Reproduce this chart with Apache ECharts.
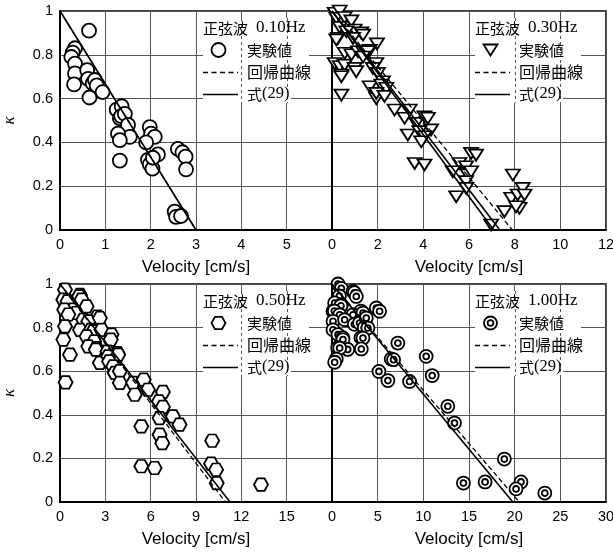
<!DOCTYPE html>
<html>
<head>
<meta charset="utf-8">
<script src="https://cdn.jsdelivr.net/npm/echarts@6/dist/echarts.min.js"></script>
<style>
  html, body { margin: 0; padding: 0; background: #fff; }
  #chart { width: 613px; height: 553px; }
</style>
</head>
<body>
<div id="chart"></div>
<script>
// ---- data: velocity [cm/s] vs. kappa for four sine-wave frequencies ----
const freqLabels = ['0.10Hz', '0.30Hz', '0.50Hz', '1.00Hz'];
const xMax  = [6, 12, 18, 30];
const xStep = [1, 2, 3, 5];

const vel010 = [0.64, 0.33, 0.28, 0.25, 0.33, 0.33, 0.31, 0.60, 0.62, 0.72, 0.77, 0.81, 0.65, 0.94,
                1.25, 1.36, 1.32, 1.35, 1.43, 1.50, 1.54, 1.28, 1.32, 1.32,
                1.98, 2.01, 2.09, 1.90, 2.16, 1.94, 1.98, 2.04, 2.05,
                2.60, 2.70, 2.77, 2.78, 2.53, 2.56, 2.67];
const kap010 = [0.91, 0.83, 0.81, 0.79, 0.76, 0.715, 0.665, 0.73, 0.69, 0.67, 0.685, 0.66, 0.605, 0.63,
                0.55, 0.565, 0.51, 0.52, 0.53, 0.48, 0.425, 0.44, 0.41, 0.317,
                0.47, 0.44, 0.425, 0.40, 0.345, 0.32, 0.30, 0.28, 0.33,
                0.37, 0.355, 0.335, 0.277, 0.084, 0.06, 0.064];

const vel030 = [0.12, 0.34, 0.19, 0.55, 0.85, 0.34, 0.99, 1.28, 1.36, 0.63, 0.26, 0.92, 0.19, 1.97,
                1.65, 0.56, 0.85, 1.14, 1.36, 1.57, 1.36, 0.12, 0.34, 0.55, 0.99, 0.41, 0.41, 1.06,
                1.94, 1.79, 2.01, 2.23, 1.65, 2.16, 2.38, 1.94, 1.94, 2.30, 0.41,
                2.74, 3.40, 3.18, 4.05, 4.20, 3.69, 4.34, 3.32, 3.83, 4.05, 3.91, 3.62, 4.05,
                6.09, 6.31, 5.58, 5.87, 5.29, 5.95, 6.09, 5.87, 5.88, 5.44, 6.97,
                7.92, 7.85, 8.13, 8.35, 8.43, 8.21, 8.06, 7.55];
const kap030 = [0.99, 1.00, 0.967, 0.97, 0.955, 0.925, 0.913, 0.90, 0.89, 0.905, 0.875, 0.875, 0.868, 0.85,
                0.82, 0.807, 0.80, 0.814, 0.814, 0.814, 0.79, 0.76, 0.746, 0.753, 0.738, 0.708, 0.70, 0.723,
                0.76, 0.738, 0.715, 0.677, 0.654, 0.662, 0.647, 0.60, 0.624, 0.61, 0.616,
                0.548, 0.548, 0.51, 0.517, 0.51, 0.487, 0.457, 0.434, 0.449, 0.426, 0.403, 0.304, 0.297,
                0.35, 0.342, 0.304, 0.289, 0.266, 0.251, 0.266, 0.221, 0.19, 0.152, 0.023,
                0.251, 0.145, 0.16, 0.19, 0.16, 0.099, 0.106, 0.084];

const vel050 = [0.33, 0.22, 0.50, 1.32, 1.27, 1.43, 1.76, 0.88, 0.28, 1.05, 0.55, 2.48, 1.54, 1.87, 2.64,
                0.33, 1.32, 2.04, 2.20, 2.75, 3.41, 0.22, 1.76, 2.26, 3.36, 1.87, 2.42, 0.66, 2.37,
                3.14, 3.80, 2.64, 3.19, 3.85, 3.25, 3.52, 3.63, 3.96, 3.96, 0.37,
                4.84, 4.95, 5.54, 5.82, 6.81, 6.55, 6.81, 6.59, 7.47, 7.91, 5.38, 6.59, 6.77,
                10.07, 5.38, 6.26, 10.00, 10.33, 10.37, 13.30];
const kap050 = [0.974, 0.928, 0.92, 0.95, 0.943, 0.928, 0.897, 0.882, 0.882, 0.867, 0.86, 0.851, 0.836, 0.829, 0.844,
                0.806, 0.79, 0.79, 0.783, 0.79, 0.768, 0.745, 0.76, 0.737, 0.745, 0.714, 0.706, 0.676, 0.699,
                0.69, 0.683, 0.638, 0.668, 0.676, 0.645, 0.622, 0.592, 0.60, 0.546, 0.549,
                0.546, 0.492, 0.561, 0.515, 0.505, 0.462, 0.436, 0.385, 0.393, 0.355, 0.347, 0.309, 0.27,
                0.281, 0.164, 0.156, 0.176, 0.148, 0.087, 0.08];

const vel100 = [0.66, 1.02, 0.81, 2.30, 2.45, 2.66, 0.29, 1.02, 0.98, 0.10, 0.26, 3.17, 0.84, 1.75,
                2.30, 3.39, 4.85, 5.21, 0.11, 1.38, 2.45, 3.02, 3.54, 3.75, 3.93, 0.11, 0.66, 1.17,
                3.17, 1.20, 3.39, 0.62, 1.72, 0.84, 3.21, 7.21, 0.47, 0.29, 6.48, 6.74, 10.31,
                5.14, 6.12, 8.49, 10.97, 12.68, 13.41, 18.87, 14.39, 16.76, 20.69, 20.15, 23.30];
const kap100 = [1.00, 0.98, 0.945, 0.966, 0.96, 0.943, 0.913, 0.905, 0.90, 0.875, 0.876, 0.876, 0.859, 0.836,
                0.859, 0.867, 0.89, 0.875, 0.829, 0.836, 0.815, 0.821, 0.80, 0.844, 0.798, 0.79, 0.768, 0.754,
                0.754, 0.745, 0.752, 0.708, 0.70, 0.706, 0.702, 0.729, 0.656, 0.641, 0.656, 0.653, 0.668,
                0.599, 0.557, 0.553, 0.58, 0.439, 0.362, 0.197, 0.087, 0.092, 0.092, 0.06, 0.041];

// regression curves (dashed) and eq.(29) lines (solid): [velocity, kappa] end points
const reg010 = [[0, 1], [3.0, 0]];
const eq010  = [[0, 1], [3.0, 0]];
const reg030 = [[0, 1], [7.9, 0]];
const eq030  = [[0, 1], [7.35, 0]];
const eq030b = [[0, 1], [7.08, 0]];
const reg050 = [[0, 1], [10.95, 0]];
const eq050  = [[0, 1], [11.25, 0]];
const reg100 = [[0, 1], [20.5, 0]];
const eq100  = [[0, 1], [19.8, 0]];

// ---- layout & style ----
const grids = [
  { left: 60,  top: 11,  width: 272, height: 219 },
  { left: 332, top: 11,  width: 274, height: 219 },
  { left: 60,  top: 284, width: 272, height: 218 },
  { left: 332, top: 284, width: 274, height: 218 }
];
const SANS = 'Liberation Sans';
const SERIF = 'Liberation Serif';
const CJK = 'Noto Sans CJK JP';
const GRID_GREY = '#555';

const SYM_TRI = 'path://M0,0 L20,0 L10,17 Z';
const SYM_HEX = 'path://M0,8.66 L5,0 L15,0 L20,8.66 L15,17.32 L5,17.32 Z';
const SYM_DBL = 'path://M10,0 A10,10 0 1,1 10,20 A10,10 0 1,1 10,0 Z M10,5.5 A4.5,4.5 0 1,1 10,14.5 A4.5,4.5 0 1,1 10,5.5 Z';

const panels = [
  { v: vel010, k: kap010, sym: 'circle', size: 14,       reg: reg010, eqs: [eq010] },
  { v: vel030, k: kap030, sym: SYM_TRI,  size: [14, 11], reg: reg030, eqs: [eq030, eq030b] },
  { v: vel050, k: kap050, sym: SYM_HEX,  size: [14, 12.5], reg: reg050, eqs: [eq050] },
  { v: vel100, k: kap100, sym: SYM_DBL,  size: 13,       reg: reg100, eqs: [eq100] }
];

const xAxes = [], yAxes = [], series = [];
panels.forEach((p, i) => {
  const left = (i % 2 === 0);
  xAxes.push({
    type: 'value', gridIndex: i, min: 0, max: xMax[i], interval: xStep[i],
    name: 'Velocity [cm/s]', nameLocation: 'middle', nameGap: 29,
    nameTextStyle: { fontFamily: SANS, fontSize: 17, color: '#000' },
    axisLine: { show: true, onZero: false, lineStyle: { color: '#000', width: 2 } },
    axisTick: { show: false },
    axisLabel: { fontFamily: SANS, fontSize: 14.5, color: '#000', margin: 7, showMaxLabel: !left },
    splitLine: { show: true, lineStyle: { color: GRID_GREY, width: 1 } }
  });
  yAxes.push({
    type: 'value', gridIndex: i, min: 0, max: 1, interval: 0.2,
    name: left ? 'κ' : '', nameLocation: 'middle', nameGap: 42, nameRotate: 90,
    nameTextStyle: { fontFamily: SERIF, fontStyle: 'italic', fontSize: 17, color: '#000' },
    axisLine: { show: true, onZero: false, lineStyle: { color: '#000', width: 2 } },
    axisTick: { show: false },
    axisLabel: { show: left, fontFamily: SANS, fontSize: 14.5, color: '#000', margin: 7 },
    splitLine: { show: true, lineStyle: { color: GRID_GREY, width: 1 } }
  });
  series.push({
    type: 'scatter', xAxisIndex: i, yAxisIndex: i, z: 2,
    symbol: p.sym, symbolSize: p.size,
    itemStyle: { color: '#fff', borderColor: '#000', borderWidth: 1.8, opacity: 1 },
    data: p.v.map((x, j) => [x, p.k[j]])
  });
  series.push({
    type: 'line', xAxisIndex: i, yAxisIndex: i, z: 3, symbol: 'none',
    lineStyle: { color: '#000', width: 1.3, type: [5, 3] },
    data: p.reg
  });
  p.eqs.forEach(eq => series.push({
    type: 'line', xAxisIndex: i, yAxisIndex: i, z: 3, symbol: 'none',
    lineStyle: { color: '#000', width: 1.6 },
    data: eq
  }));
});

const chart = echarts.init(document.getElementById('chart'), null, { renderer: 'canvas' });
chart.setOption({
  animation: false,
  backgroundColor: '#fff',
  grid: grids.map(g => Object.assign({ show: true, borderColor: '#000', borderWidth: 1.5,
                                       backgroundColor: 'transparent', outerBoundsMode: 'none' }, g)),
  xAxis: xAxes,
  yAxis: yAxes,
  series: series
});

// ---- per-panel legend boxes ----
function legendMarker(i, cx, cy) {
  const st = { fill: '#fff', stroke: '#000', lineWidth: 1.8 };
  if (i === 0) return [{ type: 'circle', shape: { cx, cy, r: 7 }, style: st }];
  if (i === 1) return [{ type: 'polygon', shape: { points: [[cx - 7, cy - 5.5], [cx + 7, cy - 5.5], [cx, cy + 5.5]] }, style: st }];
  if (i === 2) return [{ type: 'polygon', shape: { points: [[cx - 7, cy], [cx - 3.5, cy - 6.2], [cx + 3.5, cy - 6.2],
                                                          [cx + 7, cy], [cx + 3.5, cy + 6.2], [cx - 3.5, cy + 6.2]] }, style: st }];
  return [{ type: 'circle', shape: { cx, cy, r: 6.5 }, style: st },
          { type: 'circle', shape: { cx, cy, r: 2.9 }, style: st }];
}

const graphics = [];
grids.forEach((g, i) => {
  const L = g.left, T = g.top;
  const white = { fill: '#fff' };
  const els = [
    { type: 'rect', shape: { x: L + 143, y: T + 7,  width: 106, height: 44 }, style: white },
    { type: 'rect', shape: { x: L + 143, y: T + 51, width: 111, height: 21 }, style: white },
    { type: 'rect', shape: { x: L + 143, y: T + 72, width: 88,  height: 20 }, style: white }
  ];
  [4 / 6, 5 / 6].forEach(f => {
    const x = Math.round(chart.convertToPixel({ gridIndex: i }, [xMax[i] * f, 0])[0]) + 0.5;
    els.push({ type: 'line', shape: { x1: x, y1: T + 7, x2: x, y2: T + 92 },
               style: { stroke: '#555', lineWidth: 1, lineDash: [3, 3] } });
  });
  els.push({ type: 'text', x: L + 143, y: T + 17,
    style: { text: '{a|正弦波}{b|' + freqLabels[i] + '}', verticalAlign: 'middle', align: 'left',
             rich: { a: { fontFamily: CJK, fontSize: 15, fill: '#000' },
                     b: { fontFamily: SERIF, fontSize: 17, fill: '#000', padding: [0, 0, 0, 8] } } } });
  legendMarker(i, L + 158.5, T + 39).forEach(m => els.push(m));
  els.push({ type: 'text', x: L + 187, y: T + 39,
    style: { text: '実験値', font: '15px "' + CJK + '"', fill: '#000', verticalAlign: 'middle', align: 'left' } });
  els.push({ type: 'line', shape: { x1: L + 143, y1: T + 61.5, x2: L + 178, y2: T + 61.5 },
             style: { stroke: '#000', lineWidth: 1.3, lineDash: [5, 3.5] } });
  els.push({ type: 'text', x: L + 187, y: T + 61,
    style: { text: '回帰曲線', font: '16px "' + CJK + '"', fill: '#000', verticalAlign: 'middle', align: 'left' } });
  els.push({ type: 'line', shape: { x1: L + 143, y1: T + 83.5, x2: L + 178, y2: T + 83.5 },
             style: { stroke: '#000', lineWidth: 1.5 } });
  els.push({ type: 'text', x: L + 187, y: T + 83,
    style: { text: '{a|式}{b|(29)}', verticalAlign: 'middle', align: 'left',
             rich: { a: { fontFamily: CJK, fontSize: 15, fill: '#000' },
                     b: { fontFamily: SERIF, fontSize: 16.5, fill: '#000' } } } });
  graphics.push({ type: 'group', z: 100, children: els });
});
chart.setOption({ graphic: graphics });
</script>
</body>
</html>
